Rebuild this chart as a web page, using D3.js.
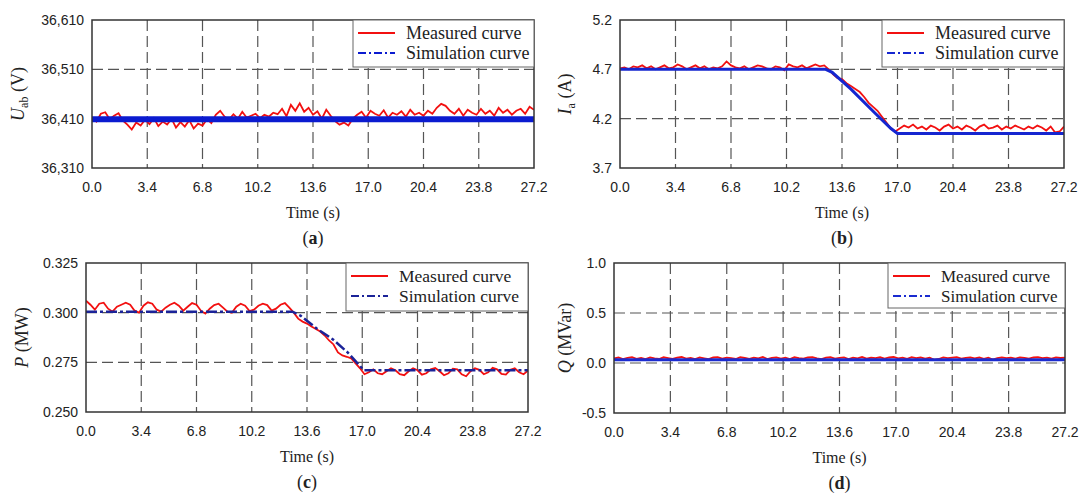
<!DOCTYPE html>
<html>
<head>
<meta charset="utf-8">
<script src="https://cdn.jsdelivr.net/npm/d3@7"></script>
<style>
  body { margin: 0; background: #fff; }
  .tick-label { font-family: "Liberation Sans", Arial, sans-serif; font-size: 14px; fill: #222; }
  .serif { font-family: "Liberation Serif", "Times New Roman", serif; fill: #222; }
</style>
</head>
<body>
<svg id="fig" width="1083" height="498"></svg>
<script>
// ---------------- DATA ----------------
const xTicks = [0, 3.4, 6.8, 10.2, 13.6, 17.0, 20.4, 23.8, 27.2];
// measured samples every 0.272 s, 0 .. 27.2
const sampleT = d3.range(101).map(i => i * 0.272);

// (a) line voltage U_ab (V)
const uTicks = [36310, 36410, 36510, 36610];
const uMeasured = [
  36412, 36404, 36420, 36423, 36409, 36416, 36421, 36406, 36398, 36388,
  36402, 36396, 36408, 36399, 36411, 36395, 36404, 36398, 36410, 36392,
  36403, 36394, 36407, 36390, 36400, 36396, 36409, 36401, 36418, 36426,
  36414, 36408, 36419, 36410, 36424, 36412, 36416, 36420, 36411, 36418,
  36414, 36422, 36419, 36430, 36415, 36438, 36426, 36441, 36424, 36432,
  36418, 36425, 36410, 36428, 36416, 36405, 36398, 36402, 36396, 36410,
  36418, 36424, 36412, 36426, 36420, 36416, 36427, 36412, 36422, 36418,
  36425, 36414, 36428, 36418, 36422, 36416, 36426, 36420, 36432, 36440,
  36436, 36426, 36420, 36430, 36416, 36428, 36422, 36418, 36430, 36420,
  36426, 36416, 36432, 36422, 36428, 36418, 36426, 36430, 36420, 36434, 36428
];
const uSimT = [0, 27.2];
const uSim = [36409, 36409];

// (b) phase current I_a (A)
const iTicks = [3.7, 4.2, 4.7, 5.2];
const iMeasured = [
  4.71, 4.72, 4.70, 4.73, 4.72, 4.74, 4.71, 4.73, 4.70, 4.72,
  4.74, 4.71, 4.72, 4.75, 4.73, 4.70, 4.72, 4.74, 4.71, 4.73,
  4.70, 4.72, 4.71, 4.73, 4.78, 4.74, 4.72, 4.71, 4.73, 4.70,
  4.72, 4.74, 4.73, 4.71, 4.70, 4.73, 4.72, 4.69, 4.75, 4.73,
  4.72, 4.74, 4.71, 4.73, 4.75, 4.73, 4.74, 4.70, 4.65, 4.61,
  4.60, 4.56, 4.53, 4.50, 4.47, 4.42, 4.36, 4.32, 4.28, 4.22,
  4.16, 4.10, 4.07, 4.10, 4.13, 4.11, 4.14, 4.10, 4.12, 4.09,
  4.13, 4.11, 4.08, 4.12, 4.14, 4.10, 4.12, 4.09, 4.13, 4.11,
  4.08, 4.12, 4.14, 4.10, 4.11, 4.13, 4.09, 4.12, 4.10, 4.13,
  4.11, 4.09, 4.12, 4.10, 4.13, 4.11, 4.08, 4.12, 4.06, 4.07, 4.12
];
const iSimT = [0, 12.6, 13.0, 14.15, 15.6, 16.6, 17.0, 27.2];
const iSim = [4.70, 4.70, 4.67, 4.50, 4.26, 4.10, 4.05, 4.05];

// (c) active power P (MW)
const pTicks = [0.250, 0.275, 0.300, 0.325];
const pMeasured = [
  0.3060, 0.3040, 0.3015, 0.3045, 0.3050, 0.3020, 0.3005, 0.3030, 0.3040, 0.3050,
  0.3040, 0.3010, 0.3000, 0.3035, 0.3052, 0.3045, 0.3015, 0.3005, 0.3025, 0.3040,
  0.3050, 0.3035, 0.3010, 0.3030, 0.3048, 0.3040, 0.3010, 0.2995, 0.3020, 0.3038,
  0.3045, 0.3025, 0.3005, 0.3000, 0.3030, 0.3045, 0.3035, 0.3008, 0.3015, 0.3035,
  0.3045, 0.3038, 0.3010, 0.3020, 0.3040, 0.3048, 0.3025, 0.3000, 0.2970, 0.2955,
  0.2945, 0.2930, 0.2918, 0.2905, 0.2885, 0.2860, 0.2840, 0.2800, 0.2785, 0.2778,
  0.2770, 0.2745, 0.2720, 0.2690, 0.2700, 0.2715, 0.2695, 0.2690, 0.2705, 0.2720,
  0.2710, 0.2690, 0.2685, 0.2705, 0.2720, 0.2710, 0.2688, 0.2695, 0.2715, 0.2722,
  0.2705, 0.2685, 0.2695, 0.2718, 0.2715, 0.2690, 0.2680, 0.2705, 0.2720, 0.2712,
  0.2690, 0.2700, 0.2722, 0.2715, 0.2692, 0.2688, 0.2712, 0.2720, 0.2700, 0.2690, 0.2708
];
const pSimT = [0, 12.7, 13.2, 14.2, 15.2, 16.1, 16.6, 17.1, 27.2];
const pSim = [0.3005, 0.3005, 0.2985, 0.2920, 0.2865, 0.2800, 0.2755, 0.2710, 0.2710];

// (d) reactive power Q (MVar)
const qTicks = [-0.5, 0.0, 0.5, 1.0];
const qMeasured = [
  0.046, 0.055, 0.040, 0.052, 0.058, 0.042, 0.050, 0.038, 0.056, 0.047,
  0.040, 0.057, 0.049, 0.041, 0.054, 0.060, 0.044, 0.052, 0.039, 0.056,
  0.047, 0.038, 0.055, 0.059, 0.043, 0.053, 0.048, 0.040, 0.058, 0.050,
  0.042, 0.054, 0.046, 0.060, 0.039, 0.052, 0.056, 0.044, 0.053, 0.040,
  0.057, 0.048, 0.043, 0.055, 0.059, 0.046, 0.039, 0.053, 0.058, 0.044,
  0.051, 0.056, 0.040, 0.054, 0.046, 0.060, 0.043, 0.053, 0.048, 0.057,
  0.044, 0.055, 0.061, 0.046, 0.053, 0.041, 0.058, 0.049, 0.055, 0.043,
  0.053, 0.032, 0.040, 0.056, 0.048, 0.054, 0.059, 0.044, 0.051, 0.057,
  0.046, 0.055, 0.041, 0.053, 0.034, 0.049, 0.057, 0.048, 0.054, 0.044,
  0.056, 0.051, 0.043, 0.055, 0.059, 0.048, 0.053, 0.044, 0.057, 0.050, 0.054
];
const qSimT = [0, 27.2];
const qSim = [0.033, 0.033];

const legendNames = ["Measured curve", "Simulation curve"];

// ---------------- LAYOUT ----------------
const panels = [
  { tag: "a", box: [92, 20, 534, 168], ticks: uTicks, fmt: d3.format(","),
    meas: uMeasured, simT: uSimT, sim: uSim, simW: 6, simColor: "#0b1bd0", simDash: null,
    sym: "U", sub: "ab", unit: " (V)", labelX: 18, legend: [181, 47], legendFont: 18 },
  { tag: "b", box: [620, 20, 1064, 168], ticks: iTicks, fmt: d3.format(".1f"),
    meas: iMeasured, simT: iSimT, sim: iSim, simW: 3, simColor: "#1526d0", simDash: null,
    sym: "I", sub: "a", unit: " (A)", labelX: 565, legend: [182, 47], legendFont: 18 },
  { tag: "c", box: [86, 263, 528, 412], ticks: pTicks, fmt: d3.format(".3f"),
    meas: pMeasured, simT: pSimT, sim: pSim, simW: 2.5, simColor: "#1b2398", simDash: "11,3,3,3",
    sym: "P", sub: "", unit: " (MW)", labelX: 22, legend: [182, 48], legendFont: 17.5 },
  { tag: "d", box: [614, 263, 1065, 413], ticks: qTicks, fmt: v => d3.format(".1f")(v).replace("\u2212", "-"),
    meas: qMeasured, simT: qSimT, sim: qSim, simW: 3, simColor: "#1a2bd0", simDash: null,
    sym: "Q", sub: "", unit: " (MVar)", labelX: 565, legend: [177, 45], legendFont: 17 }
];

const svg = d3.select("#fig");

panels.forEach(p => {
  const [l, t, r, b] = p.box;
  const x = d3.scaleLinear().domain([0, 27.2]).range([l, r]);
  const y = d3.scaleLinear().domain(d3.extent(p.ticks)).range([b, t]);
  const g = svg.append("g");

  // grid
  g.selectAll(".vgrid").data(xTicks.slice(1, -1)).enter().append("line")
    .attr("x1", d => x(d)).attr("x2", d => x(d)).attr("y1", t).attr("y2", b)
    .attr("stroke", "#555").attr("stroke-width", 1.2).attr("stroke-dasharray", "11,5");
  g.selectAll(".hgrid").data(p.ticks.slice(1, -1)).enter().append("line")
    .attr("x1", l).attr("x2", r).attr("y1", d => y(d)).attr("y2", d => y(d))
    .attr("stroke", "#555").attr("stroke-width", 1.2).attr("stroke-dasharray", "11,5");

  // curves
  const clipId = "clip-" + p.tag;
  svg.append("clipPath").attr("id", clipId).append("rect")
    .attr("x", l).attr("y", t).attr("width", r - l).attr("height", b - t);
  const curves = g.append("g").attr("clip-path", `url(#${clipId})`);

  curves.append("path")
    .datum(p.meas.map((v, i) => [sampleT[i], v]))
    .attr("d", d3.line().x(d => x(d[0])).y(d => y(d[1])))
    .attr("fill", "none").attr("stroke", "#f21010").attr("stroke-width", 1.8);

  curves.append("path")
    .datum(p.sim.map((v, i) => [p.simT[i], v]))
    .attr("d", d3.line().x(d => x(d[0])).y(d => y(d[1])))
    .attr("fill", "none").attr("stroke", p.simColor).attr("stroke-width", p.simW)
    .attr("stroke-dasharray", p.simDash);

  // frame
  g.append("rect").attr("x", l).attr("y", t).attr("width", r - l).attr("height", b - t)
    .attr("fill", "none").attr("stroke", "#333").attr("stroke-width", 1.5);

  // tick labels
  g.selectAll(".yt").data(p.ticks).enter().append("text")
    .attr("class", "tick-label")
    .attr("x", l - 8).attr("y", d => y(d)).attr("dy", "0.36em")
    .attr("text-anchor", "end").text(p.fmt);
  g.selectAll(".xt").data(xTicks).enter().append("text")
    .attr("class", "tick-label")
    .attr("x", d => x(d)).attr("y", b + 24)
    .attr("text-anchor", "middle").text(d => d.toFixed(1));

  // axis titles
  g.append("text").attr("class", "serif").attr("font-size", 16)
    .attr("x", (l + r) / 2).attr("y", b + 50).attr("text-anchor", "middle").text("Time (s)");

  const yl = g.append("text").attr("class", "serif").attr("font-size", 18)
    .attr("transform", `translate(${p.labelX},${(t + b) / 2}) rotate(-90)`)
    .attr("text-anchor", "middle").attr("dy", "0.35em");
  yl.append("tspan").attr("font-style", "italic").text(p.sym);
  if (p.sub) yl.append("tspan").attr("font-size", 12).attr("dy", 4).text(p.sub);
  yl.append("tspan").attr("dy", p.sub ? -4 : 0).text(p.unit);

  // panel tag
  const tagText = g.append("text").attr("class", "serif").attr("font-size", 18)
    .attr("x", (l + r) / 2).attr("y", b + 76).attr("text-anchor", "middle");
  tagText.append("tspan").text("(");
  tagText.append("tspan").attr("font-weight", "bold").text(p.tag);
  tagText.append("tspan").text(")");

  // legend
  const [lw, lh] = p.legend;
  const lg = g.append("g").attr("transform", `translate(${r - lw},${t})`);
  lg.append("rect").attr("width", lw).attr("height", lh)
    .attr("fill", "#fff").attr("stroke", "#666").attr("stroke-width", 1);
  const styles = [
    { color: "#f21010", dash: null, w: 1.8 },
    { color: p.simColor, dash: "8,3,2,3", w: 2 }
  ];
  legendNames.forEach((name, i) => {
    const cy = 13 + i * 20;
    lg.append("line").attr("x1", 5).attr("x2", 42).attr("y1", cy).attr("y2", cy)
      .attr("stroke", styles[i].color).attr("stroke-width", styles[i].w)
      .attr("stroke-dasharray", styles[i].dash);
    lg.append("text").attr("class", "serif").attr("font-size", p.legendFont)
      .attr("x", 53).attr("y", cy).attr("dy", "0.33em").text(name);
  });
});
</script>
</body>
</html>
